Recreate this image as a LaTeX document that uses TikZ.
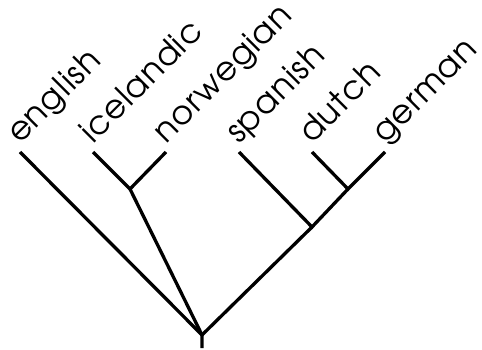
\documentclass[tikz,border=0pt]{standalone}
\usepackage{fontspec}
\setmainfont{texgyreadventor-regular.otf}[LetterSpace=3]
\begin{document}
\begin{tikzpicture}[x=1pt,y=-1pt,
  branch/.style={line width=3.3pt, line cap=butt},
  leaflabel/.style={rotate=45, anchor=base west, inner sep=0pt, font=\fontsize{33}{33}\selectfont}]
\useasboundingbox (0,0) rectangle (482,350);
% leaves
\coordinate (en) at (20,152);
\coordinate (ic) at (93,152);
\coordinate (no) at (166,152);
\coordinate (sp) at (239,152);
\coordinate (du) at (312,152);
\coordinate (ge) at (385,152);
% inner nodes
\coordinate (scand) at (130,189);
\coordinate (dg) at (348,189);
\coordinate (sdg) at (312,227);
\coordinate (root) at (202,335);
\coordinate (rootend) at (202,348);
% branches
\draw[branch] (ic) -- (scand) -- (no);
\draw[branch] (du) -- (dg) -- (ge);
\draw[branch] (sp) -- (sdg) -- (dg);
\draw[branch] (en) -- (root) -- (sdg);
\draw[branch] (scand) -- (root) -- (rootend);
% labels
\node[leaflabel] (len) at ([shift={(0,-7)}]en) {english};
\node[leaflabel] (lic) at ([shift={(0,-7)}]ic) {icelandic};
\node[leaflabel] (lno) at ([shift={(0,-7)}]no) {norwegian};
\node[leaflabel] (lsp) at ([shift={(0,-7)}]sp) {spanish};
\node[leaflabel] (ldu) at ([shift={(0,-7)}]du) {dutch};
\node[leaflabel] (lge) at ([shift={(0,-7)}]ge) {german};
\end{tikzpicture}
\end{document}
